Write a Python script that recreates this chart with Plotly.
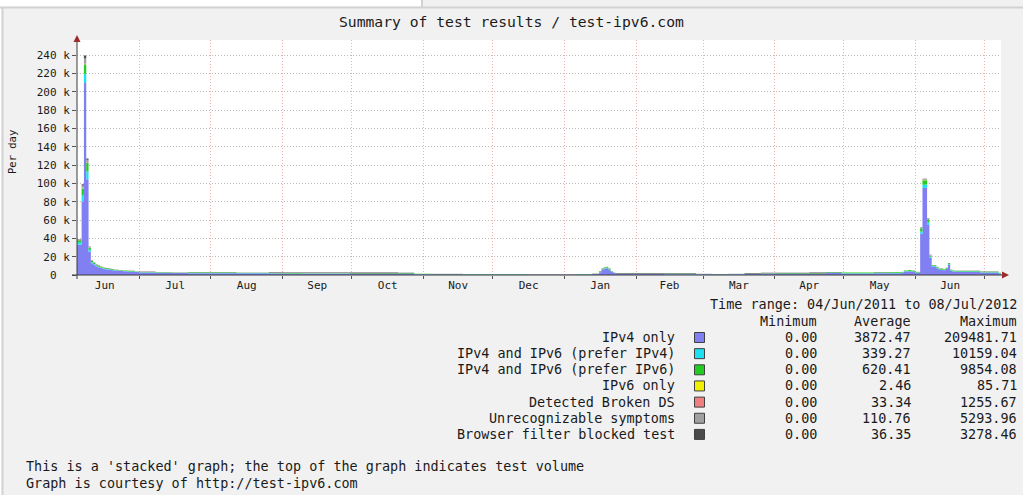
import plotly.graph_objects as go

# ---------------- data (values in thousands of tests per day) ----------------
period_start = [
    # daily, Jun 2011
    "2011-06-04", "2011-06-05", "2011-06-06", "2011-06-07", "2011-06-08", "2011-06-09",
    "2011-06-10", "2011-06-11", "2011-06-12", "2011-06-13", "2011-06-14", "2011-06-15",
    "2011-06-16", "2011-06-17", "2011-06-18", "2011-06-19", "2011-06-20", "2011-06-21",
    "2011-06-22", "2011-06-23", "2011-06-24", "2011-06-25", "2011-06-26", "2011-06-27",
    "2011-06-28", "2011-06-29", "2011-06-30",
    # weekly, Jul 2011 - Jan 2012
    "2011-07-01", "2011-07-08", "2011-07-15", "2011-07-22", "2011-07-29", "2011-08-05",
    "2011-08-12", "2011-08-19", "2011-08-26", "2011-09-02", "2011-09-09", "2011-09-16",
    "2011-09-23", "2011-09-30", "2011-10-07", "2011-10-14", "2011-10-21", "2011-10-28",
    "2011-11-04", "2011-11-11", "2011-11-18", "2011-11-25", "2011-12-02", "2011-12-09",
    "2011-12-16", "2011-12-23", "2011-12-30", "2012-01-06", "2012-01-13",
    # daily, January bump
    "2012-01-16", "2012-01-17", "2012-01-18", "2012-01-19", "2012-01-20", "2012-01-21",
    "2012-01-22",
    # weekly, Jan - May 2012
    "2012-01-23", "2012-01-30", "2012-02-06", "2012-02-13", "2012-02-20", "2012-02-27",
    "2012-03-05", "2012-03-12", "2012-03-19", "2012-03-26", "2012-04-02", "2012-04-09",
    "2012-04-16", "2012-04-23", "2012-04-30", "2012-05-07", "2012-05-14", "2012-05-21",
    # daily, May - Jul 2012
    "2012-05-26", "2012-05-27", "2012-05-28", "2012-05-29", "2012-05-30", "2012-05-31",
    "2012-06-01", "2012-06-02", "2012-06-03", "2012-06-04", "2012-06-05", "2012-06-06",
    "2012-06-07", "2012-06-08", "2012-06-09", "2012-06-10", "2012-06-11", "2012-06-12",
    "2012-06-13", "2012-06-14", "2012-06-15", "2012-06-16", "2012-06-17", "2012-06-18",
    "2012-06-29", "2012-07-07",
]
range_end = "2012-07-08"

ipv4_only = [
    33.2, 33.0, 80.5, 209.5, 104.5, 25.5, 12.8, 11.2, 9.6, 8.4, 7.6, 6.8, 6.4, 6.0, 5.6, 5.2,
    4.8, 4.8, 4.4, 4.4, 4.0, 4.0, 3.6, 3.6, 3.6, 3.2, 3.2,
    2.6, 2.3, 2.1, 2.0, 1.9, 1.9, 1.8, 1.8, 1.7, 1.5, 1.4, 1.4, 1.4, 1.3, 1.3, 1.3, 1.2, 0.85,
    0.75, 0.75, 0.65, 0.65, 0.6, 0.6, 0.55, 0.55, 0.55, 0.65, 1.0,
    3.0, 5.6, 6.9, 7.3, 5.6, 3.5, 2.2,
    0.97, 0.97, 0.97, 0.87, 0.87, 0.85, 0.75, 0.85, 0.97, 1.17, 1.22, 1.22, 1.27, 2.07, 1.77,
    1.77, 1.87, 1.97,
    2.4, 3.7, 3.7, 4.1, 3.7, 3.3, 2.4, 2.4, 45.0, 95.0, 95.5, 54.5, 18.8, 9.2, 9.2, 7.4, 5.6,
    5.6, 5.15, 6.5, 11.0, 4.7, 3.8, 3.35, 2.65, 1.6,
]
ipv4_ipv6_pref4 = [
    2.4, 2.5, 6.5, 10.2, 8.5, 2.0, 1.0, 0.9, 0.8, 0.6, 0.6, 0.5, 0.5, 0.5, 0.4, 0.4, 0.4, 0.4,
    0.3, 0.3, 0.3, 0.3, 0.3, 0.3, 0.3, 0.25, 0.25,
    0.3, 0.25, 0.25, 0.25, 0.25, 0.25, 0.25, 0.25, 0.2, 0.2, 0.2, 0.2, 0.2, 0.2, 0.2, 0.2, 0.2,
    0.15, 0.15, 0.15, 0.15, 0.15, 0.2, 0.2, 0.2, 0.2, 0.2, 0.2, 0.2,
    0.3, 0.5, 0.6, 0.6, 0.5, 0.3, 0.25,
    0.2, 0.2, 0.2, 0.2, 0.2, 0.15, 0.15, 0.15, 0.15, 0.2, 0.2, 0.2, 0.2, 0.25, 0.25, 0.25,
    0.25, 0.3,
    0.3, 0.35, 0.35, 0.4, 0.35, 0.3, 0.3, 0.3, 2.5, 3.5, 3.2, 2.8, 1.0, 0.5, 0.5, 0.45, 0.4,
    0.4, 0.4, 0.45, 0.6, 0.4, 0.35, 0.35, 0.3, 0.25,
]
ipv4_ipv6_pref6 = [
    2.2, 2.3, 7.5, 9.9, 9.2, 2.2, 1.5, 1.3, 1.1, 1.0, 0.9, 0.8, 0.7, 0.7, 0.7, 0.6, 0.6, 0.6,
    0.6, 0.6, 0.5, 0.5, 0.5, 0.5, 0.5, 0.45, 0.45,
    0.5, 0.5, 0.5, 0.45, 0.45, 0.45, 0.45, 0.45, 0.4, 0.4, 0.4, 0.4, 0.4, 0.4, 0.4, 0.4, 0.4,
    0.3, 0.3, 0.3, 0.3, 0.3, 0.25, 0.25, 0.2, 0.2, 0.2, 0.2, 0.25,
    0.5, 0.7, 0.8, 0.85, 0.7, 0.5, 0.4,
    0.25, 0.25, 0.25, 0.25, 0.25, 0.2, 0.2, 0.2, 0.3, 0.35, 0.4, 0.4, 0.45, 0.7, 0.6, 0.6,
    0.6, 0.7,
    0.65, 0.8, 0.8, 0.85, 0.8, 0.75, 0.65, 0.65, 3.5, 5.0, 4.8, 3.6, 1.6, 1.0, 1.0, 0.9, 0.8,
    0.8, 0.75, 0.85, 1.1, 0.7, 0.65, 0.65, 0.6, 0.5,
]
ipv6_only = [
    0.01, 0.01, 0.03, 0.086, 0.05, 0.01, 0.006, 0.005, 0.005, 0.004, 0.004, 0.004, 0.003,
    0.003, 0.003, 0.003, 0.003, 0.003, 0.002, 0.002, 0.002, 0.002, 0.002, 0.002, 0.002,
    0.002, 0.002,
    0.002, 0.002, 0.002, 0.002, 0.002, 0.002, 0.002, 0.002, 0.002, 0.002, 0.002, 0.002,
    0.002, 0.002, 0.002, 0.002, 0.002, 0.001, 0.001, 0.001, 0.001, 0.001, 0.001, 0.001,
    0.001, 0.001, 0.001, 0.001, 0.001,
    0.005, 0.01, 0.01, 0.01, 0.01, 0.005, 0.005,
    0.001, 0.001, 0.001, 0.001, 0.001, 0.001, 0.001, 0.001, 0.001, 0.002, 0.002, 0.002,
    0.002, 0.003, 0.002, 0.002, 0.002, 0.003,
    0.003, 0.004, 0.004, 0.005, 0.004, 0.004, 0.003, 0.003, 0.02, 0.04, 0.04, 0.03, 0.01,
    0.01, 0.01, 0.008, 0.006, 0.006, 0.005, 0.006, 0.01, 0.005, 0.004, 0.004, 0.003, 0.002,
]
broken_ds = [
    0.3, 0.3, 0.8, 1.26, 0.9, 0.3, 0.15, 0.12, 0.1, 0.1, 0.08, 0.08, 0.07, 0.06, 0.06, 0.05,
    0.05, 0.05, 0.04, 0.04, 0.04, 0.04, 0.03, 0.03, 0.03, 0.03, 0.03,
    0.04, 0.03, 0.03, 0.03, 0.03, 0.03, 0.03, 0.03, 0.03, 0.03, 0.03, 0.03, 0.03, 0.03, 0.03,
    0.03, 0.03, 0.02, 0.02, 0.02, 0.02, 0.02, 0.02, 0.02, 0.02, 0.02, 0.02, 0.02, 0.02,
    0.03, 0.04, 0.05, 0.05, 0.04, 0.03, 0.03,
    0.02, 0.02, 0.02, 0.02, 0.02, 0.02, 0.02, 0.02, 0.02, 0.03, 0.03, 0.03, 0.03, 0.03, 0.03,
    0.03, 0.03, 0.03,
    0.03, 0.03, 0.03, 0.03, 0.03, 0.03, 0.03, 0.03, 0.2, 0.4, 0.4, 0.3, 0.1, 0.05, 0.05, 0.05,
    0.04, 0.04, 0.04, 0.04, 0.06, 0.04, 0.03, 0.03, 0.03, 0.03,
]
unrecognizable = [
    0.7, 0.7, 2.4, 5.29, 2.6, 0.7, 0.4, 0.3, 0.3, 0.3, 0.25, 0.25, 0.2, 0.2, 0.2, 0.15, 0.1,
    0.1, 0.1, 0.1, 0.1, 0.1, 0.05, 0.05, 0.05, 0.05, 0.05,
    0.1, 0.1, 0.1, 0.1, 0.1, 0.1, 0.1, 0.1, 0.1, 0.1, 0.1, 0.1, 0.1, 0.1, 0.1, 0.1, 0.1, 0.06,
    0.06, 0.06, 0.06, 0.06, 0.05, 0.05, 0.05, 0.05, 0.05, 0.05, 0.06,
    0.1, 0.1, 0.1, 0.15, 0.1, 0.1, 0.08,
    0.06, 0.06, 0.06, 0.06, 0.06, 0.06, 0.06, 0.06, 0.06, 0.06, 0.06, 0.06, 0.06, 0.08, 0.08,
    0.08, 0.08, 0.08,
    0.08, 0.08, 0.08, 0.08, 0.08, 0.08, 0.08, 0.08, 0.6, 0.8, 0.8, 0.5, 0.3, 0.15, 0.15, 0.12,
    0.1, 0.1, 0.1, 0.1, 0.15, 0.1, 0.08, 0.08, 0.08, 0.08,
]
browser_blocked = [
    0.2, 0.2, 1.3, 3.28, 1.3, 0.3, 0.15, 0.15, 0.1, 0.1, 0.07, 0.07, 0.05, 0.05, 0.05, 0.05,
    0.05, 0.05, 0.05, 0.05, 0.05, 0.05, 0.05, 0.05, 0.05, 0.05, 0.05,
    0.15, 0.15, 0.15, 0.15, 0.15, 0.15, 0.15, 0.15, 0.6, 0.6, 0.6, 0.6, 0.6, 0.6, 0.6, 0.6, 0.6,
    0.02, 0.02, 0.02, 0.02, 0.02, 0.02, 0.02, 0.02, 0.02, 0.02, 0.02, 0.02,
    0.05, 0.05, 0.05, 0.05, 0.05, 0.05, 0.04,
    0.6, 0.6, 0.6, 0.6, 0.6, 0.02, 0.02, 0.02, 0.6, 0.6, 0.6, 0.6, 0.6, 0.05, 0.05, 0.05,
    0.05, 0.05,
    0.04, 0.04, 0.04, 0.04, 0.04, 0.04, 0.04, 0.04, 0.2, 0.3, 0.3, 0.3, 0.2, 0.1, 0.1, 0.07,
    0.05, 0.05, 0.05, 0.05, 0.08, 0.05, 0.04, 0.04, 0.04, 0.04,
]

series_names = [
    "IPv4 only", "IPv4 and IPv6 (prefer IPv4)", "IPv4 and IPv6 (prefer IPv6)", "IPv6 only",
    "Detected Broken DS", "Unrecognizable symptoms", "Browser filter blocked test",
]
series_values = [ipv4_only, ipv4_ipv6_pref4, ipv4_ipv6_pref6, ipv6_only, broken_ds,
                 unrecognizable, browser_blocked]
series_colors = ["#8080f2", "#1ee0f0", "#22cc22", "#f0f000", "#f08080", "#a0a0a0", "#4a4a4a"]

stat_min = ["0.00"] * 7
stat_avg = ["3872.47", "339.27", "620.41", "2.46", "33.34", "110.76", "36.35"]
stat_max = ["209481.71", "10159.04", "9854.08", "85.71", "1255.67", "5293.96", "3278.46"]

y_tick_vals = [0, 20, 40, 60, 80, 100, 120, 140, 160, 180, 200, 220, 240]
y_tick_text = ["0\u00a0\u00a0", "20 k", "40 k", "60 k", "80 k", "100 k", "120 k", "140 k",
               "160 k", "180 k", "200 k", "220 k", "240 k"]

title_text = "Summary of test results / test-ipv6.com"
time_range_text = "Time range: 04/Jun/2011 to 08/Jul/2012"
footer_lines = ["This is a 'stacked' graph; the top of the graph indicates test volume",
                "Graph is courtesy of http://test-ipv6.com"]

for v in series_values:
    assert len(v) == len(period_start), (len(v), len(period_start))

# ---------------- geometry helpers (pixel -> paper) ----------------
W, H = 1023, 495
PL, PR, PT, PB = 77, 1001, 40, 275
MONO = "DejaVu Sans Mono"


def fx(px):
    return (px - PL) / (PR - PL)


def fy(py):
    return (PB - py) / (PB - PT)


fig = go.Figure()
x_steps = period_start + [range_end]
for name, vals, col in zip(series_names, series_values, series_colors):
    fig.add_trace(go.Scatter(
        x=x_steps, y=vals + [vals[-1]], name=name, mode="lines",
        line=dict(width=0, shape="hv"), fillcolor=col, stackgroup="one",
        hoverinfo="skip",
    ))

shapes = []
annotations = []

# screenshot frame details
shapes.append(dict(type="rect", xref="paper", yref="paper", x0=fx(0), x1=fx(422),
                   y0=fy(0), y1=fy(6.5), fillcolor="white", line=dict(width=0), layer="below"))
shapes.append(dict(type="rect", xref="paper", yref="paper", x0=fx(0), x1=fx(1.5),
                   y0=fy(0), y1=fy(495), fillcolor="white", line=dict(width=0), layer="below"))
shapes.append(dict(type="line", xref="paper", yref="paper", x0=fx(0), x1=fx(1023),
                   y0=fy(7.5), y1=fy(7.5), line=dict(color="#d2d2d2", width=2)))
shapes.append(dict(type="line", xref="paper", yref="paper", x0=fx(422), x1=fx(422),
                   y0=fy(0), y1=fy(7), line=dict(color="#d2d2d2", width=2)))
shapes.append(dict(type="line", xref="paper", yref="paper", x0=fx(2.5), x1=fx(2.5),
                   y0=fy(7), y1=fy(495), line=dict(color="#d2d2d2", width=2)))

# axes with arrows
axis_col = "#3a3a3a"
arrow_col = "#9c2b2b"
shapes.append(dict(type="line", xref="paper", yref="paper", x0=fx(72), x1=fx(1003),
                   y0=fy(275), y1=fy(275), line=dict(color=axis_col, width=1)))
shapes.append(dict(type="line", xref="paper", yref="paper", x0=fx(77), x1=fx(77),
                   y0=fy(279), y1=fy(40), line=dict(color=axis_col, width=1)))
shapes.append(dict(type="path", xref="paper", yref="paper",
                   path=f"M {fx(1009)},{fy(275)} L {fx(1002)},{fy(271.5)} L {fx(1002)},{fy(278.5)} Z",
                   fillcolor=arrow_col, line=dict(width=0)))
shapes.append(dict(type="path", xref="paper", yref="paper",
                   path=f"M {fx(77)},{fy(35)} L {fx(73.5)},{fy(42)} L {fx(80.5)},{fy(42)} Z",
                   fillcolor=arrow_col, line=dict(width=0)))

# title, axis title
annotations.append(dict(text=title_text, xref="paper", yref="paper", x=fx(511), y=fy(22),
                        xanchor="center", yanchor="middle", showarrow=False,
                        font=dict(family=MONO, size=14.7, color="#1a1a1a")))
annotations.append(dict(text="Per day", xref="paper", yref="paper", x=fx(12), y=fy(152),
                        xanchor="center", yanchor="middle", showarrow=False, textangle=-90,
                        font=dict(family=MONO, size=10.5, color="#1a1a1a")))

# legend table
tfont = dict(family=MONO, size=13.45, color="#1a1a1a")


def txt(s, px, py, anchor="right"):
    annotations.append(dict(text=s, xref="paper", yref="paper", x=fx(px), y=fy(py),
                            xanchor=anchor, yanchor="middle", showarrow=False, font=tfont))


txt(time_range_text, 1019, 304.5)
txt("Minimum", 819, 321)
txt("Average", 913, 321)
txt("Maximum", 1019, 321)
for i, name in enumerate(series_names):
    yy = 337.5 + 16.15 * i
    txt(name, 677, yy)
    shapes.append(dict(type="rect", xref="paper", yref="paper", x0=fx(694.5), x1=fx(704.5),
                       y0=fy(yy - 5), y1=fy(yy + 5), fillcolor=series_colors[i],
                       line=dict(color="#404040", width=1)))
    txt(stat_min[i], 819, yy)
    txt(stat_avg[i], 913, yy)
    txt(stat_max[i], 1019, yy)

for i, line in enumerate(footer_lines):
    txt(line, 24, 466.5 + 16.5 * i, anchor="left")

fig.update_layout(
    width=W, height=H,
    margin=dict(l=PL, r=W - PR, t=PT, b=H - PB, pad=0),
    paper_bgcolor="#f1f1f1", plot_bgcolor="#ffffff",
    showlegend=False, hovermode=False,
    shapes=shapes, annotations=annotations,
    xaxis=dict(
        type="date", range=["2011-06-04", range_end], dtick="M1", tick0="2011-06-01",
        tickformat="%b", ticklabelmode="period", showgrid=True,
        gridcolor="rgba(225,110,110,0.55)", griddash="1px,2px", gridwidth=1,
        ticks="outside", ticklen=3, tickcolor="#555555", showline=False, zeroline=False,
        ticklabelstandoff=-3,
        tickfont=dict(family=MONO, size=11, color="#1a1a1a"), fixedrange=True,
    ),
    yaxis=dict(
        range=[0, 256.4], tickmode="array", tickvals=y_tick_vals, ticktext=y_tick_text,
        showgrid=True, gridcolor="#bdbdbd", griddash="1px,2px", gridwidth=1,
        ticks="outside", ticklen=4, tickcolor="#555555", showline=False, zeroline=False,
        tickfont=dict(family=MONO, size=11, color="#1a1a1a"), fixedrange=True,
    ),
)

fig.write_html(
    "out.html",
    config={"displayModeBar": False, "staticPlot": True},
    post_script="document.body.style.margin='0';document.body.style.padding='0';",
)
